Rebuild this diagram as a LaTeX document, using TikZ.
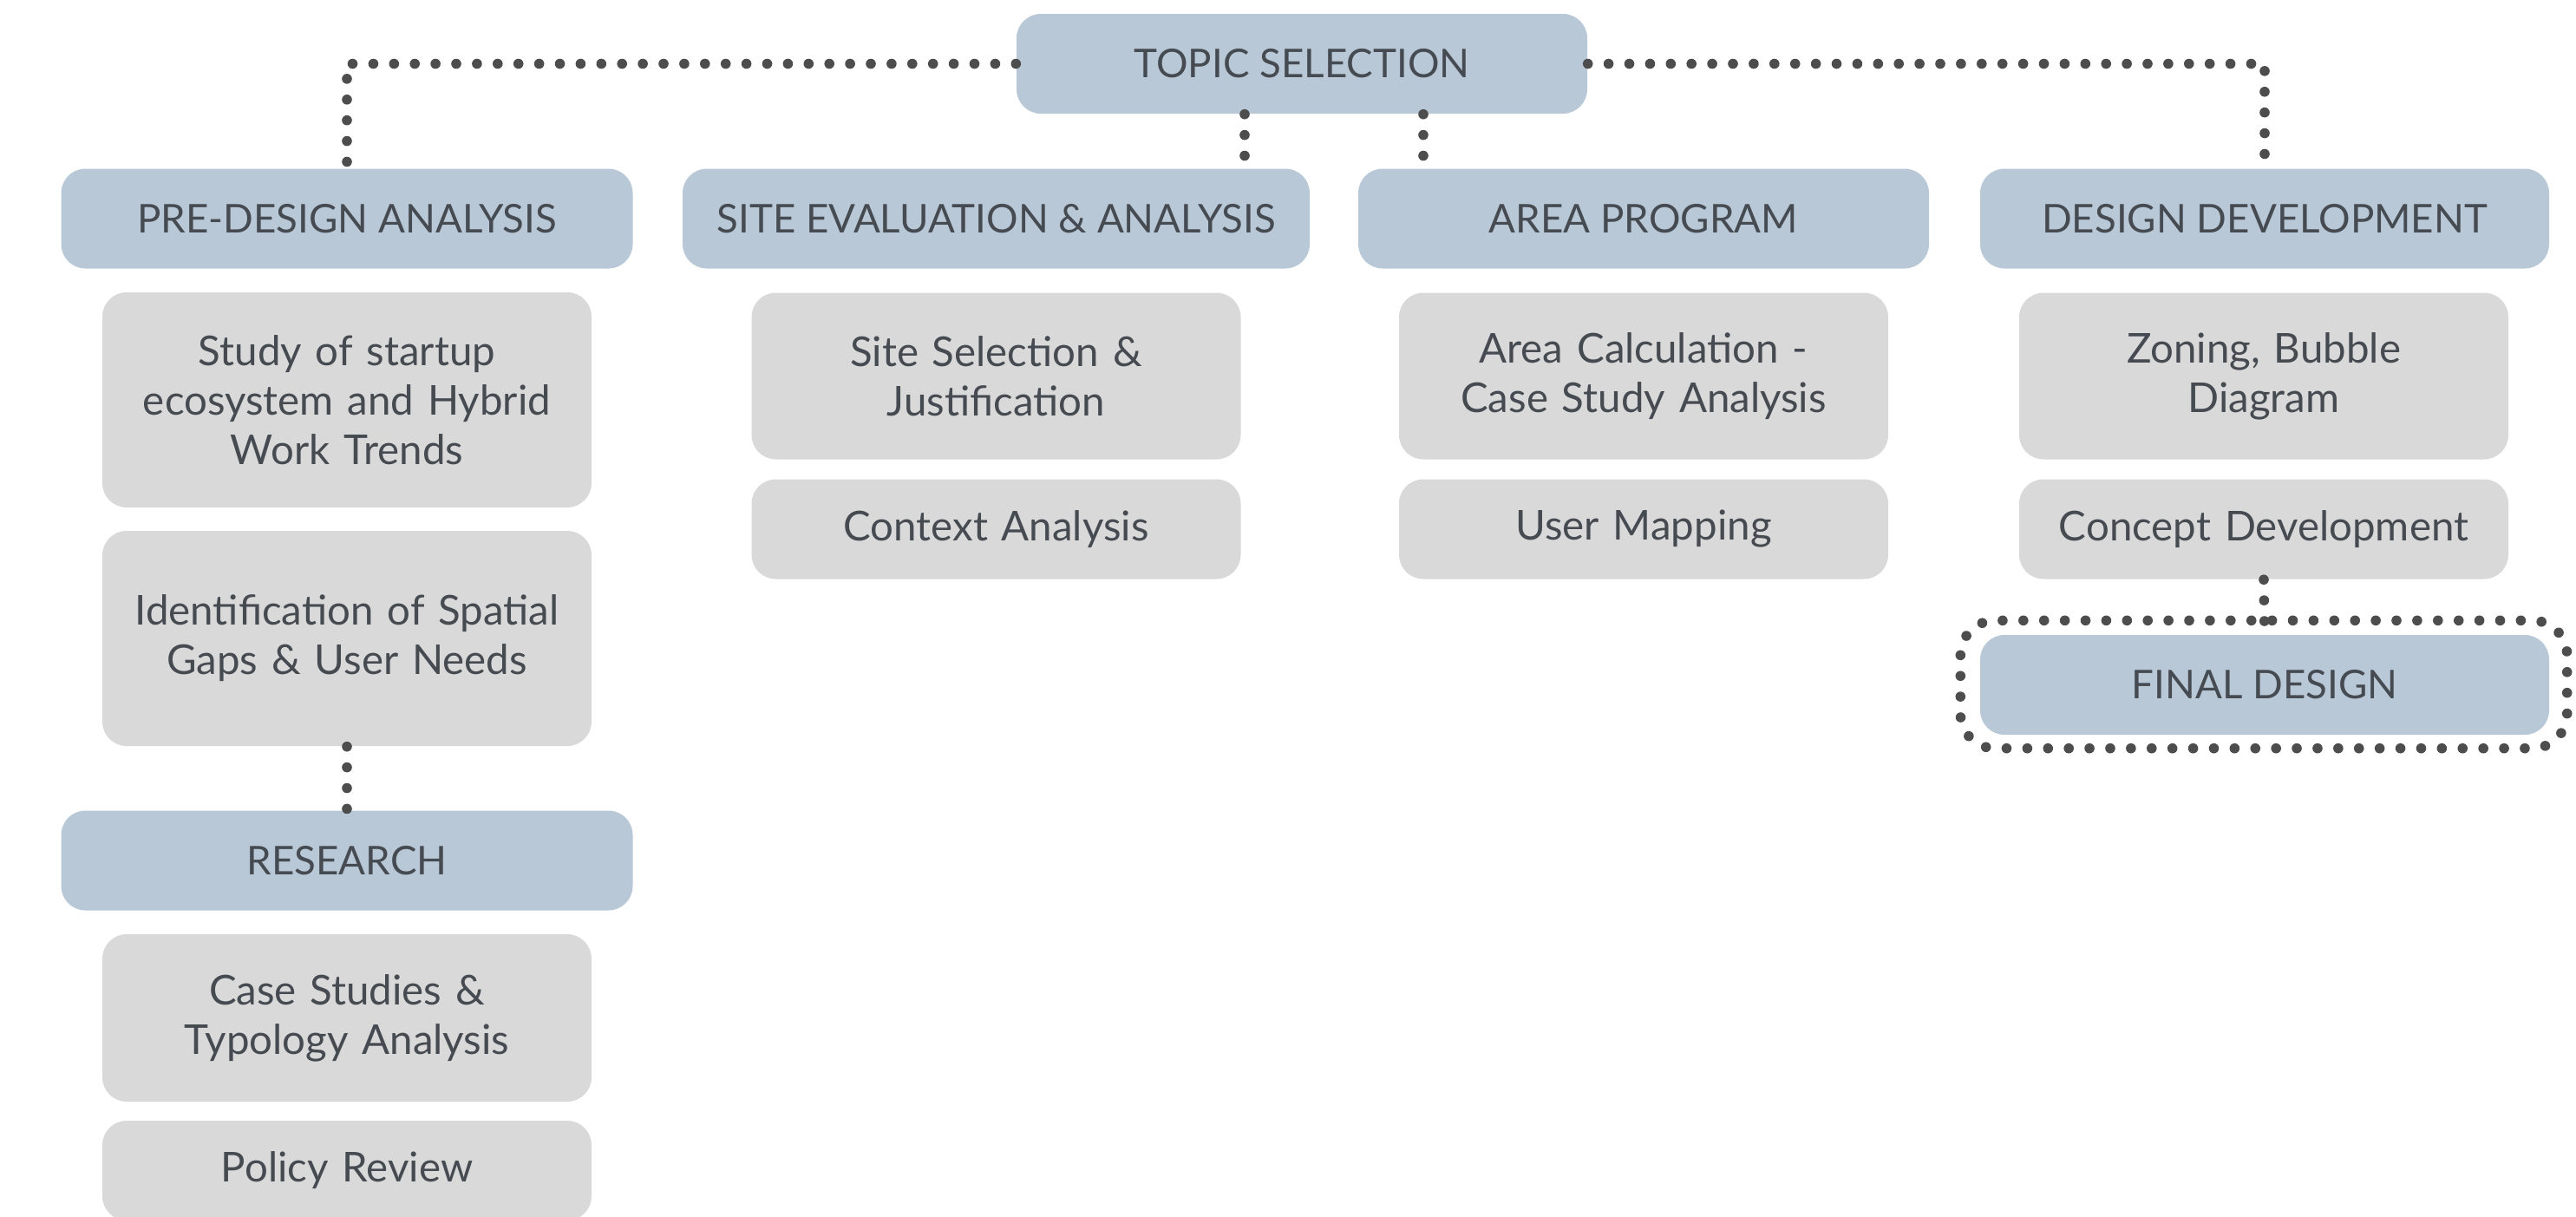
\documentclass[tikz,border=0pt]{standalone}
\usepackage{fontspec}
\setmainfont{Lato}
\definecolor{hdrblue}{HTML}{B8C8D7}
\definecolor{boxgrey}{HTML}{D9D9D9}
\definecolor{inkgrey}{HTML}{464B52}
\definecolor{dotgrey}{HTML}{4D4D4D}
\usetikzlibrary{positioning, calc}

\begin{document}
\begin{tikzpicture}[
  hdr/.style={fill=hdrblue, rounded corners=0.28cm, minimum width=6.59cm, minimum height=1.15cm, inner sep=0pt, text=inkgrey, font=\fontsize{13}{16.2}\selectfont, align=center},
  sub/.style={fill=boxgrey, rounded corners=0.28cm, text width=5.64cm, inner sep=0pt, text=inkgrey, font=\fontsize{13.5}{16.2}\selectfont, align=center},
  dotline/.style={draw=dotgrey, line width=3.3pt, line cap=round, dash pattern=on 0pt off 6.8pt}
]
  \useasboundingbox (0,0) rectangle (29.70,-14.02);

  % top
  \node[hdr, minimum width=6.58cm] (topic) at (15.01,-0.735) {TOPIC SELECTION};

  % headers
  \node[hdr] (pre) at (4.00,-2.52) {PRE-DESIGN ANALYSIS};
  \node[hdr, minimum width=7.23cm] (site) at (11.485,-2.52) {SITE EVALUATION \& ANALYSIS};
  \node[hdr, minimum width=6.58cm] (area) at (18.95,-2.52) {AREA PROGRAM};
  \node[hdr, minimum width=6.56cm] (design) at (26.11,-2.52) {DESIGN DEVELOPMENT};

  % pre-design column
  \node[sub, minimum height=2.48cm] (study) at (4.00,-4.61) {Study of startup\\ecosystem and Hybrid\\Work Trends};
  \node[sub, minimum height=2.48cm] (gaps) at (4.00,-7.36) {Identification of Spatial\\Gaps \& User Needs};
  \node[hdr] (research) at (4.00,-9.92) {RESEARCH};
  \node[sub, minimum height=1.93cm] (cases) at (4.00,-11.735) {Case Studies \&\\Typology Analysis};
  \node[sub, minimum height=1.15cm] (policy) at (4.00,-13.495) {Policy Review};

  % site column
  \node[sub, minimum height=1.92cm] (selection) at (11.485,-4.335) {Site Selection \&\\Justification};
  \node[sub, minimum height=1.15cm] (context) at (11.485,-6.10) {Context Analysis};

  % area column
  \node[sub, minimum height=1.92cm] (calc) at (18.95,-4.335) {Area Calculation -\\Case Study Analysis};
  \node[sub, minimum height=1.15cm] (users) at (18.95,-6.10) {User Mapping};

  % design column
  \node[sub, minimum height=1.92cm] (zoning) at (26.10,-4.335) {Zoning, Bubble\\Diagram};
  \node[sub, minimum height=1.15cm] (concept) at (26.10,-6.10) {Concept Development};
  \node[hdr, minimum width=6.56cm] (final) at (26.11,-7.895) {FINAL DESIGN};

  % connectors
  \draw[dotline] (topic.west) -| (pre.north);
  \draw[dotline] (topic.east) -| (design.north);
  \draw[dotline] ([xshift=-0.66cm]topic.south) -- ([xshift=-0.66cm]topic.south |- site.north);
  \draw[dotline] ([xshift=1.40cm]topic.south) -- ([xshift=1.40cm]topic.south |- area.north);
  \draw[dotline] (gaps.south) -- (research.north);
  \draw[dotline] (concept.south) -- (final.north);
  \draw[dotline, rounded corners=0.40cm] ([shift={(-0.22,0.16)}]final.north west) rectangle ([shift={(0.20,-0.15)}]final.south east);
\end{tikzpicture}
\end{document}
